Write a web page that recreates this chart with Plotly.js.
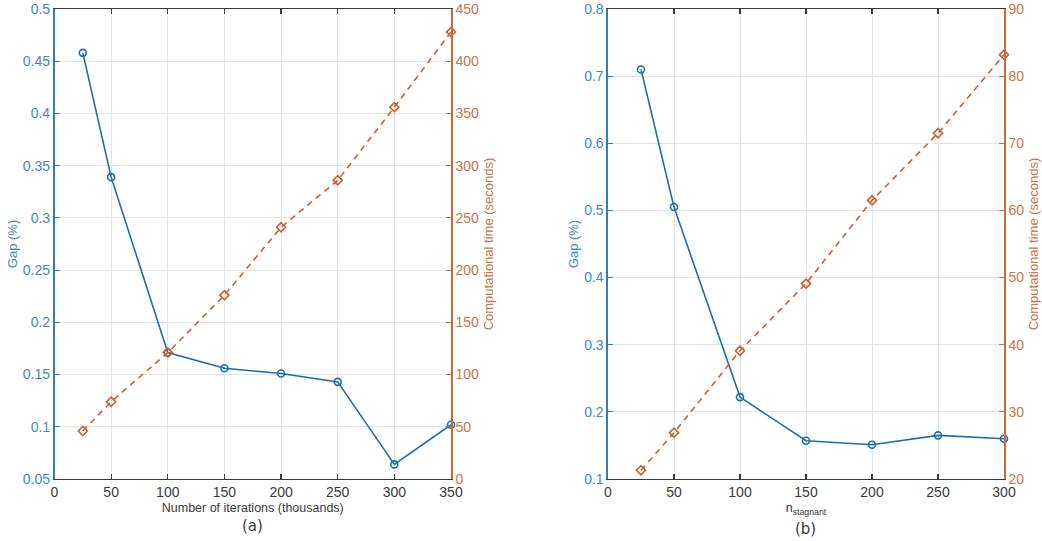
<!DOCTYPE html>
<html>
<head>
<meta charset="utf-8">
<script src="https://cdn.plot.ly/plotly-3.0.1.min.js"></script>
<style>html,body{margin:0;padding:0;background:#fff;}#chart{width:1042px;height:541px;}</style>
</head>
<body>
<div id="chart"></div>
<script>
// ---- data ----
const iterations = [25, 50, 100, 150, 200, 250, 300, 350];            // thousands
const gapIterations = [0.458, 0.339, 0.171, 0.156, 0.151, 0.143, 0.064, 0.102];
const timeIterations = [46, 74, 121, 176, 241, 286, 356, 428];

const nStagnant = [25, 50, 100, 150, 200, 250, 300];
const gapStagnant = [0.710, 0.505, 0.222, 0.157, 0.151, 0.165, 0.160];
const timeStagnant = [21.3, 26.9, 39.1, 49.1, 61.5, 71.5, 83.2];

const xTicksA = [0, 50, 100, 150, 200, 250, 300, 350];
const gapTicksA = [0.05, 0.1, 0.15, 0.2, 0.25, 0.3, 0.35, 0.4, 0.45, 0.5];
const gapTickTextA = ['0.05','0.1','0.15','0.2','0.25','0.3','0.35','0.4','0.45','0.5'];
const timeTicksA = [0, 50, 100, 150, 200, 250, 300, 350, 400, 450];

const xTicksB = [0, 50, 100, 150, 200, 250, 300];
const gapTicksB = [0.1, 0.2, 0.3, 0.4, 0.5, 0.6, 0.7, 0.8];
const timeTicksB = [20, 30, 40, 50, 60, 70, 80, 90];

const titles = {
  xA: 'Number of iterations (thousands)',
  xB: 'n<sub>stagnant</sub>',
  gap: 'Gap (%)',
  time: 'Computational time (seconds)',
  a: '(a)',
  b: '(b)'
};

// ---- style ----
const BLUE = '#1d6fa3';
const ORANGE = '#c9612c';
const BLUE_TXT = '#3f8cb8';
const ORANGE_TXT = '#c8764a';
const BLUE_AX = '#2f7fb3';
const ORANGE_AX = '#d06a35';
const DARK = '#3a3a3a';
const GRID = '#dfe5eb';
const FONT = 'Liberation Sans, Arial, sans-serif';

const gapTrace = (x, y, xa, ya) => ({
  x, y, xaxis: xa, yaxis: ya, type: 'scatter', mode: 'lines+markers',
  line: {color: BLUE, width: 1.6},
  marker: {symbol: 'circle-open', size: 7, color: BLUE, line: {width: 1.6, color: BLUE}},
  showlegend: false, cliponaxis: false
});
const timeTrace = (x, y, xa, ya) => ({
  x, y, xaxis: xa, yaxis: ya, type: 'scatter', mode: 'lines+markers',
  line: {color: ORANGE, width: 1.6, dash: '6px,5px'},
  marker: {symbol: 'diamond-open', size: 7, color: ORANGE, line: {width: 1.6, color: ORANGE}},
  showlegend: false, cliponaxis: false
});

const data = [
  timeTrace(iterations, timeIterations, 'x', 'y2'),
  gapTrace(iterations, gapIterations, 'x', 'y'),
  timeTrace(nStagnant, timeStagnant, 'x2', 'y4'),
  gapTrace(nStagnant, gapStagnant, 'x2', 'y3')
];

const W = 1042, H = 541;
const yDom = [1 - 479 / H, 1 - 9 / H];
const domA = [54.5 / W, 451 / W];
const domB = [608 / W, 1004 / W];

const xAxis = (dom, ticks, title, anchor) => ({
  domain: dom, range: [ticks[0], ticks[ticks.length - 1]], anchor: anchor,
  tickvals: ticks, ticktext: ticks.map(String),
  showgrid: true, gridcolor: GRID, gridwidth: 1,
  zeroline: false, showline: true, linecolor: DARK, linewidth: 1.3,
  mirror: 'ticks', ticks: 'inside', ticklen: 5, tickcolor: DARK, tickwidth: 1.2,
  tickfont: {family: FONT, size: 14, color: DARK},
  title: {text: title, font: {family: FONT, size: 12.5, color: DARK}, standoff: 4},
  automargin: false
});
const yLeft = (ticks, ticktext, dom, anchor) => ({
  domain: dom, range: [ticks[0], ticks[ticks.length - 1]], anchor: anchor,
  tickvals: ticks, ticktext: ticktext,
  showgrid: true, gridcolor: GRID, gridwidth: 1,
  zeroline: false, showline: true, linecolor: BLUE_AX, linewidth: 1.6,
  ticks: 'inside', ticklen: 5, tickcolor: BLUE_AX, tickwidth: 1.2,
  tickfont: {family: FONT, size: 14, color: BLUE_TXT},
  title: {text: titles.gap, font: {family: FONT, size: 13, color: BLUE_TXT}, standoff: 2},
  automargin: false
});
const yRight = (ticks, overlay, anchor) => ({
  range: [ticks[0], ticks[ticks.length - 1]], overlaying: overlay, side: 'right', anchor: anchor,
  tickvals: ticks, ticktext: ticks.map(String),
  showgrid: false, zeroline: false, showline: true, linecolor: ORANGE_AX, linewidth: 1.6,
  ticks: 'inside', ticklen: 5, tickcolor: ORANGE_AX, tickwidth: 1.2,
  tickfont: {family: FONT, size: 14, color: ORANGE_TXT},
  title: {text: titles.time, font: {family: FONT, size: 13, color: ORANGE_TXT}, standoff: 6},
  automargin: false
});

const layout = {
  width: W, height: H,
  margin: {l: 0, r: 0, t: 0, b: 0},
  paper_bgcolor: '#ffffff', plot_bgcolor: '#ffffff',
  showlegend: false,
  xaxis: xAxis(domA, xTicksA, titles.xA, 'y'),
  yaxis: yLeft(gapTicksA, gapTickTextA, yDom, 'x'),
  yaxis2: yRight(timeTicksA, 'y', 'x'),
  xaxis2: xAxis(domB, xTicksB, titles.xB, 'y3'),
  yaxis3: yLeft(gapTicksB, gapTicksB.map(String), yDom, 'x2'),
  yaxis4: yRight(timeTicksB, 'y3', 'x2'),
  annotations: [
    {text: titles.a, xref: 'paper', yref: 'paper', x: (domA[0] + domA[1]) / 2, y: 1 - 526 / H,
     xanchor: 'center', yanchor: 'middle',
     showarrow: false, font: {family: 'DejaVu Sans, Verdana, sans-serif', size: 15, color: DARK}},
    {text: titles.b, xref: 'paper', yref: 'paper', x: (domB[0] + domB[1]) / 2, y: 1 - 529 / H,
     xanchor: 'center', yanchor: 'middle',
     showarrow: false, font: {family: 'DejaVu Sans, Verdana, sans-serif', size: 15, color: DARK}}
  ]
};

Plotly.newPlot('chart', data, layout, {staticPlot: true, displayModeBar: false});
</script>
</body>
</html>
